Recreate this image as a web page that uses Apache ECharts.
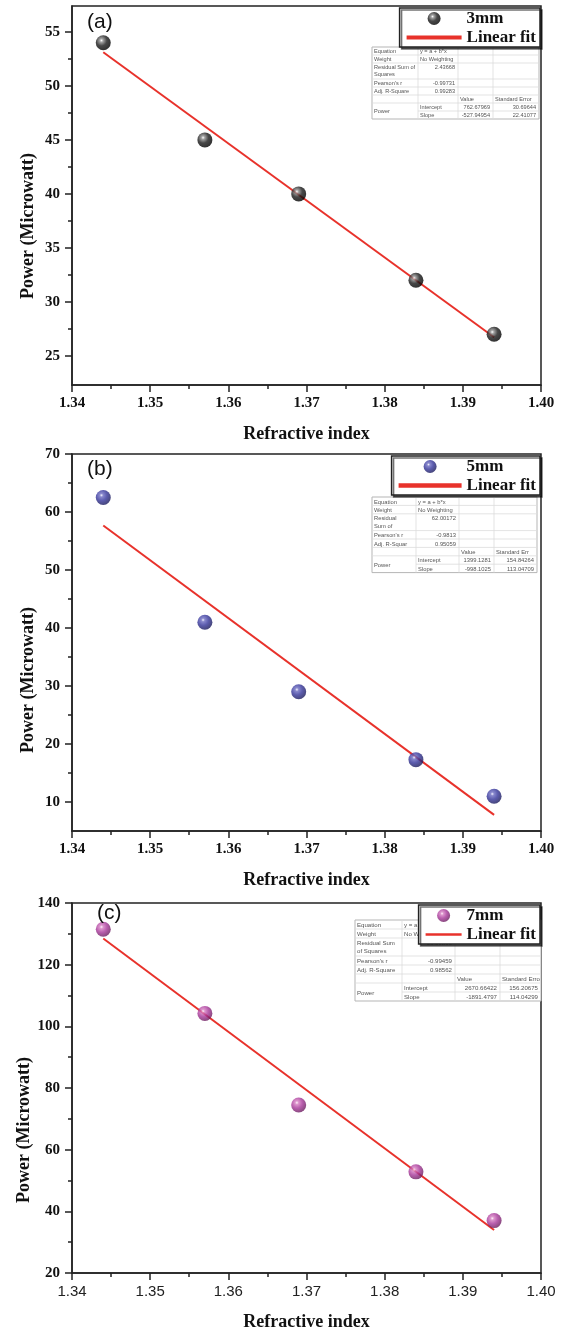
<!DOCTYPE html>
<html><head><meta charset="utf-8">
<script src="https://cdn.jsdelivr.net/npm/echarts@6/dist/echarts.min.js"></script>
<style>html,body{margin:0;padding:0;background:#fff}#c{width:564px;height:1333px}</style>
</head><body><div id="c"></div>
<script>
// ---------- data ----------
const refractiveIndex = [1.344, 1.357, 1.369, 1.384, 1.394];
const power3mm = [54, 45, 40, 32, 27];
const power5mm = [62.5, 41, 29, 17.3, 11];
const power7mm = [131.5, 104.2, 74.5, 52.8, 37];
const fitX = [1.344, 1.394];
const fit3mm = [53.12, 26.72];
const fit5mm = [57.68, 7.78];
const fit7mm = [128.5, 33.94];
const xTicks = [1.34, 1.35, 1.36, 1.37, 1.38, 1.39, 1.40];
const xMinorTicks = [1.345, 1.355, 1.365, 1.375, 1.385, 1.395];
const yTicksA = [25, 30, 35, 40, 45, 50, 55];
const yMinorA = [27.5, 32.5, 37.5, 42.5, 47.5, 52.5];
const yTicksB = [10, 20, 30, 40, 50, 60, 70];
const yMinorB = [15, 25, 35, 45, 55, 65];
const yTicksC = [20, 40, 60, 80, 100, 120, 140];
const yMinorC = [30, 50, 70, 90, 110, 130];
const statsA = [
  ['Equation', 'y = a + b*x', '', ''],
  ['Weight', 'No Weighting', '', ''],
  ['Residual Sum of\nSquares', '2.43668', '', ''],
  ["Pearson's r", '-0.99731', '', ''],
  ['Adj. R-Square', '0.99283', '', ''],
  ['', '', 'Value', 'Standard Error'],
  ['Power', 'Intercept', '762.67969', '30.69644'],
  ['', 'Slope', '-527.94954', '22.41077']
];
const statsB = [
  ['Equation', 'y = a + b*x', '', ''],
  ['Weight', 'No Weighting', '', ''],
  ['Residual\nSum of', '62.00172', '', ''],
  ["Pearson's r", '-0.9813', '', ''],
  ['Adj. R-Squar', '0.95059', '', ''],
  ['', '', 'Value', 'Standard Err'],
  ['Power', 'Intercept', '1399.1281', '154.84264'],
  ['', 'Slope', '-998.1025', '113.04709']
];
const statsC = [
  ['Equation', 'y = a + b*x', '', ''],
  ['Weight', 'No Weighting', '', ''],
  ['Residual Sum\nof Squares', '63.09896', '', ''],
  ["Pearson's r", '-0.99459', '', ''],
  ['Adj. R-Square', '0.98562', '', ''],
  ['', '', 'Value', 'Standard Erro'],
  ['Power', 'Intercept', '2670.66422', '156.20675'],
  ['', 'Slope', '-1891.4797', '114.04299']
];

// ---------- layout ----------
const panels = [
  {top: 6, height: 379, ymin: 22.3, ymax: 57.4, yt: yTicksA, ym: yMinorA, ys: power3mm, fit: fit3mm, name: '3mm',
   c: ['#ffffff', '#8a8a8a', '#1a1a1a', '#000000'], label: '(a)', lx: 87, ly: 22, ytx: 28, yty: 226,
   stats: statsA, tx: 372, ty: 47, cw: [46, 40, 35, 46], rh: 8, fs: 5.6, xSans: false, legItemW: 55},
  {top: 454, height: 377, ymin: 5, ymax: 70, yt: yTicksB, ym: yMinorB, ys: power5mm, fit: fit5mm, name: '5mm',
   c: ['#f0f0ff', '#6b6bc0', '#34349a', '#1a1a5e'], label: '(b)', lx: 87, ly: 469, ytx: 28, yty: 680,
   stats: statsB, tx: 372, ty: 497, cw: [44, 43, 35, 43], rh: 8.4, fs: 5.8, xSans: false, legItemW: 63},
  {top: 903, height: 370, ymin: 20, ymax: 140, yt: yTicksC, ym: yMinorC, ys: power7mm, fit: fit7mm, name: '7mm',
   c: ['#fff0fa', '#d47cc0', '#a8379a', '#6e1d62'], label: '(c)', lx: 97, ly: 913, ytx: 24, yty: 1130,
   stats: statsC, tx: 355, ty: 920, cw: [47, 53, 45, 41], rh: 9, fs: 6.1, xSans: true, legItemW: 36}
];
const rowUnits = [1, 1, 2, 1, 1, 1, 1, 1];

const serifBold = {fontFamily: 'Liberation Serif', fontWeight: 'bold', fontSize: 15, color: '#111'};
const grids = [], xAxes = [], yAxes = [], series = [], legends = [], graphics = [];

function sphere(c) {
  return {type: 'radial', x: 0.38, y: 0.35, r: 0.65,
    colorStops: [{offset: 0, color: c[0]}, {offset: 0.18, color: c[1]}, {offset: 0.55, color: c[2]}, {offset: 1, color: c[3]}]};
}

function tableEls(x0, y0, cw, rh, fs, rows) {
  const els = [];
  const rowH = rowUnits.map(u => u * rh);
  const W = cw.reduce((a, b) => a + b, 0);
  const H = rowH.reduce((a, b) => a + b, 0);
  els.push({type: 'rect', shape: {x: x0, y: y0, width: W, height: H}, style: {fill: '#fff', stroke: '#b5b5b5', lineWidth: 1}, z: 1});
  let y = y0;
  const colX = [x0];
  for (let i = 0; i < cw.length; i++) colX.push(colX[i] + cw[i]);
  for (let r = 0; r < rows.length; r++) {
    if (r > 0) {
      const startX = (r === 7) ? colX[1] : x0;
      els.push({type: 'line', shape: {x1: startX, y1: y, x2: x0 + W, y2: y}, style: {stroke: '#dcdcdc', lineWidth: 0.8}, z: 2});
    }
    for (let c = 0; c < 4; c++) {
      const t = rows[r][c];
      if (!t) continue;
      let align = 'left';
      if (c === 1 && r >= 2 && r <= 4) align = 'right';
      if ((c === 2 || c === 3) && r >= 6) align = 'right';
      const tx = align === 'left' ? colX[c] + 2 : colX[c + 1] - 3;
      let ty = y + (rh - fs) / 2;
      if (c === 0 && r === 6) ty = y + rh - fs / 2;
      els.push({type: 'text', x: tx, y: ty, z: 3,
        style: {text: t, fill: '#555', font: fs + 'px "Liberation Sans"', textAlign: align, textVerticalAlign: 'top', lineHeight: rh - 1}});
    }
    y += rowH[r];
  }
  for (let i = 1; i < cw.length; i++) {
    els.push({type: 'line', shape: {x1: colX[i], y1: y0, x2: colX[i], y2: y0 + H}, style: {stroke: '#dcdcdc', lineWidth: 0.8}, z: 2});
  }
  return els;
}

panels.forEach((p, i) => {
  grids.push({left: 72, right: 23, top: p.top, height: p.height, show: true, borderColor: '#222', borderWidth: 1.5, backgroundColor: 'transparent'});
  const xLabelStyle = p.xSans ? {fontFamily: 'Liberation Sans', fontWeight: 'normal', fontSize: 15, color: '#222'} : serifBold;
  xAxes.push({type: 'value', gridIndex: i, position: 'bottom', min: 1.34, max: 1.40,
    axisLine: {show: true, lineStyle: {color: '#222', width: 1.5}},
    axisTick: {show: true, length: 7, customValues: xTicks, lineStyle: {color: '#222', width: 1.5}},
    axisLabel: Object.assign({customValues: xTicks, margin: 11, formatter: v => v.toFixed(2)}, xLabelStyle),
    splitLine: {show: false},
    name: 'Refractive index', nameLocation: 'middle', nameGap: 40,
    nameTextStyle: {fontFamily: 'Liberation Serif', fontWeight: 'bold', fontSize: 18, color: '#111'}});
  xAxes.push({type: 'value', gridIndex: i, position: 'bottom', min: 1.34, max: 1.40,
    axisLine: {show: false}, axisLabel: {show: false}, splitLine: {show: false},
    axisTick: {show: true, length: 4, customValues: xMinorTicks, lineStyle: {color: '#222', width: 1.5}}});
  yAxes.push({type: 'value', gridIndex: i, position: 'left', min: p.ymin, max: p.ymax,
    axisLine: {show: true, lineStyle: {color: '#222', width: 1.5}},
    axisTick: {show: true, length: 7, customValues: p.yt, lineStyle: {color: '#222', width: 1.5}},
    axisLabel: Object.assign({customValues: p.yt, margin: 12}, serifBold),
    splitLine: {show: false}});
  yAxes.push({type: 'value', gridIndex: i, position: 'left', min: p.ymin, max: p.ymax,
    axisLine: {show: false}, axisLabel: {show: false}, splitLine: {show: false},
    axisTick: {show: true, length: 4, customValues: p.ym, lineStyle: {color: '#222', width: 1.5}}});
  series.push({type: 'line', name: 'Linear fit', xAxisIndex: 2 * i, yAxisIndex: 2 * i,
    data: fitX.map((x, k) => [x, p.fit[k]]), showSymbol: false, symbol: 'none',
    lineStyle: {color: '#e8322b', width: 2}, itemStyle: {color: '#e8322b'}, z: 2, silent: true});
  series.push({type: 'scatter', name: p.name, xAxisIndex: 2 * i, yAxisIndex: 2 * i,
    data: refractiveIndex.map((x, k) => [x, p.ys[k]]), symbolSize: 15,
    itemStyle: {color: sphere(p.c)}, z: 3, silent: true});
  legends.push({show: true, orient: 'vertical', right: 24, top: p.top + 2, z: 20,
    data: [{name: p.name, icon: 'circle'}, {name: 'Linear fit', icon: 'path://M0,0H40V3H0Z'}],
    itemWidth: p.legItemW, itemHeight: 13, itemGap: 2, padding: [2, 4, 1, 7],
    backgroundColor: '#fff', borderColor: '#222', borderWidth: 1.5,
    shadowColor: 'rgba(0,0,0,0.55)', shadowOffsetX: 2, shadowOffsetY: 2, shadowBlur: 0,
    selectedMode: false,
    textStyle: {fontFamily: 'Liberation Serif', fontWeight: 'bold', fontSize: 17, lineHeight: 16, color: '#111'}});
  graphics.push({type: 'text', x: p.lx, y: p.ly, z: 5,
    style: {text: p.label, font: '21px "Liberation Sans"', fill: '#111', textVerticalAlign: 'middle'}});
  graphics.push({type: 'text', x: p.ytx, y: p.yty, rotation: Math.PI / 2, z: 5,
    style: {text: 'Power (Microwatt)', font: 'bold 18px "Liberation Serif"', fill: '#111', textAlign: 'center', textVerticalAlign: 'middle'}});
  tableEls(p.tx, p.ty, p.cw, p.rh, p.fs, p.stats).forEach(e => graphics.push(e));
});

const chart = echarts.init(document.getElementById('c'), null, {renderer: 'canvas'});
chart.setOption({
  animation: false,
  backgroundColor: '#fff',
  grid: grids, xAxis: xAxes, yAxis: yAxes, series: series, legend: legends,
  graphic: {elements: graphics}
});
</script></body></html>
